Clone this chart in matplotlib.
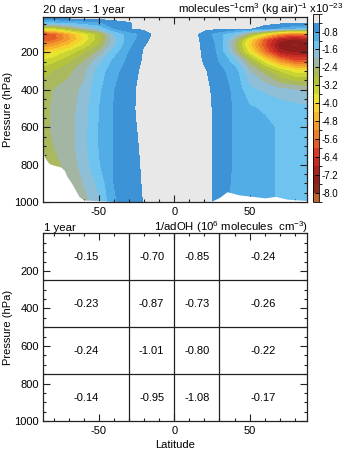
import numpy as np
import matplotlib
matplotlib.use('Agg')
import matplotlib.pyplot as plt
from matplotlib.colors import ListedColormap, BoundaryNorm
from matplotlib.ticker import MultipleLocator

plt.rcParams['font.family'] = ['Liberation Sans', 'DejaVu Sans']
plt.rcParams['mathtext.fontset'] = 'custom'
plt.rcParams['mathtext.rm'] = 'Liberation Sans'
plt.rcParams['mathtext.it'] = 'Liberation Sans:italic'
plt.rcParams['mathtext.bf'] = 'Liberation Sans:bold'

# ---------------- data: top panel (sensitivity, x1e-23) ----------------
lats = [-87, -80, -70, -60, -50, -40, -30, -25, -20, -15, -10, 0,
        10, 15, 20, 25, 30, 40, 50, 60, 70, 80, 88]
pres = [10, 40, 70, 100, 130, 160, 200, 250, 300, 400, 500, 600, 700, 800, 900, 1000]
# one row per latitude, values along pres
sens_by_lat = [
    [-0.2, -1.3, -3.6, -6.0, -6.0, -5.2, -4.2, -3.5, -3.0, -2.6, -2.5, -2.5, -2.55, -2.6, -2.6, -2.6],
    [-0.2, -1.3, -3.3, -5.8, -5.8, -5.0, -4.0, -3.3, -2.8, -2.4, -2.35, -2.35, -2.4, -2.5, -2.5, -2.5],
    [-0.2, -1.2, -2.7, -4.8, -5.0, -4.4, -3.5, -2.9, -2.5, -2.25, -2.2, -2.2, -2.2, -2.3, -2.4, -2.4],
    [-0.2, -1.0, -2.1, -3.8, -4.0, -3.6, -2.9, -2.4, -2.15, -1.9, -1.8, -1.75, -1.75, -1.8, -2.0, -2.2],
    [-0.2, -0.85, -1.6, -3.0, -3.0, -2.8, -2.3, -1.7, -1.45, -1.3, -1.22, -1.2, -1.2, -1.25, -1.5, -1.7],
    [-0.2, -0.6, -0.8, -1.6, -1.8, -1.7, -1.4, -1.1, -0.95, -0.82, -0.79, -0.79, -0.78, -0.78, -0.8, -0.85],
    [-0.2, -0.45, -0.42, -1.0, -1.0, -0.92, -0.8, -0.7, -0.61, -0.54, -0.52, -0.54, -0.55, -0.56, -0.58, -0.62],
    [-0.2, -0.35, -0.37, -0.85, -0.8, -0.69, -0.58, -0.5, -0.435, -0.4, -0.39, -0.41, -0.43, -0.45, -0.48, -0.5],
    [-0.2, -0.3, -0.33, -0.65, -0.55, -0.43, -0.38, -0.36, -0.35, -0.34, -0.33, -0.34, -0.35, -0.36, -0.37, -0.39],
    [-0.2, -0.25, -0.3, -0.41, -0.37, -0.35, -0.32, -0.3, -0.3, -0.3, -0.3, -0.3, -0.3, -0.3, -0.3, -0.3],
    [-0.2, -0.22, -0.25, -0.32, -0.3, -0.28, -0.27, -0.26, -0.26, -0.26, -0.26, -0.26, -0.26, -0.26, -0.26, -0.26],
    [-0.2, -0.2, -0.2, -0.2, -0.2, -0.2, -0.2, -0.2, -0.2, -0.2, -0.2, -0.2, -0.2, -0.2, -0.2, -0.2],
    [-0.2, -0.2, -0.22, -0.3, -0.28, -0.27, -0.26, -0.26, -0.25, -0.25, -0.25, -0.25, -0.25, -0.25, -0.25, -0.25],
    [-0.2, -0.2, -0.25, -0.39, -0.36, -0.34, -0.33, -0.31, -0.3, -0.28, -0.28, -0.28, -0.28, -0.28, -0.28, -0.28],
    [-0.2, -0.22, -0.28, -0.62, -0.56, -0.51, -0.49, -0.46, -0.37, -0.33, -0.32, -0.32, -0.32, -0.32, -0.32, -0.32],
    [-0.2, -0.24, -0.3, -0.85, -0.78, -0.73, -0.71, -0.66, -0.53, -0.43, -0.41, -0.41, -0.41, -0.41, -0.41, -0.41],
    [-0.2, -0.26, -0.33, -1.1, -1.0, -0.95, -0.9, -0.84, -0.7, -0.58, -0.55, -0.55, -0.55, -0.55, -0.56, -0.6],
    [-0.2, -0.3, -0.37, -1.6, -2.2, -2.4, -2.2, -1.4, -1.0, -0.9, -0.86, -0.86, -0.86, -0.86, -0.9, -0.95],
    [-0.2, -0.32, -0.39, -2.6, -4.0, -4.3, -3.8, -2.6, -2.0, -1.5, -1.15, -1.05, -1.05, -1.05, -1.05, -1.05],
    [-0.2, -0.34, -0.5, -3.8, -5.8, -6.0, -5.5, -3.8, -2.6, -1.7, -1.25, -1.12, -1.12, -1.12, -1.12, -1.12],
    [-0.2, -0.35, -0.9, -5.0, -7.0, -7.5, -7.0, -5.0, -3.3, -1.9, -1.35, -1.25, -1.25, -1.25, -1.25, -1.25],
    [-0.2, -0.35, -1.2, -5.5, -7.3, -7.7, -7.3, -5.8, -3.8, -2.0, -1.45, -1.35, -1.35, -1.35, -1.35, -1.35],
    [-0.2, -0.35, -1.4, -5.2, -7.0, -7.5, -7.2, -5.8, -3.8, -2.1, -1.5, -1.45, -1.4, -1.4, -1.4, -1.4],
]
# surface pressure (white, below ground)
surf_lat = [-87, -86, -83, -80, -75.5, -73, -71, -68, -65.5, -63, -60, -51, -38, 20, 25, 30, 35, 43, 52, 60, 67, 75, 88]
surf_p = [722, 761, 794, 803, 812, 829, 865, 900, 936, 972, 989, 993, 998, 1000, 995, 975, 945, 962, 970, 978, 970, 985, 992]

levels = [-8.4, -8.0, -7.6, -7.2, -6.8, -6.4, -6.0, -5.6, -5.2, -4.8, -4.4, -4.0,
          -3.6, -3.2, -2.8, -2.4, -2.0, -1.6, -1.2, -0.8, -0.4, 0.0]
cb_ticks = [-8.0, -7.2, -6.4, -5.6, -4.8, -4.0, -3.2, -2.4, -1.6, -0.8]
band_colors = [  # from most negative to near zero
    '#c0652a', '#8a2a1c', '#8f1d1b', '#a92220', '#c62a25', '#d83a27', '#e45a29',
    '#ec7d2a', '#f29a2c', '#f6b52c', '#f7d12e', '#e9e332', '#cad534', '#b5c23c',
    '#aab85e', '#a3b6a3', '#8ebfd6', '#6fc3ef', '#52ade6', '#3d93d5', '#e8e8e8',
]

# ---------------- data: bottom panel ----------------
box_lat_edges = [-30, 0, 30]
box_p_edges = [250, 500, 750]
box_values = [
    [-0.15, -0.70, -0.85, -0.24],
    [-0.23, -0.87, -0.73, -0.26],
    [-0.24, -1.01, -0.80, -0.22],
    [-0.14, -0.95, -1.08, -0.17],
]

xlims = (-87, 88)
fs = 8
fs_title = 8.2

fig = plt.figure(figsize=(3.44, 4.51), dpi=100)
ax1 = fig.add_axes([0.125, 0.5521, 0.7674, 0.4106])
ax2 = fig.add_axes([0.125, 0.0665, 0.7674, 0.4158])
cax = fig.add_axes([0.9099, 0.5528, 0.0175, 0.4169])

cmap = ListedColormap(band_colors)
norm = BoundaryNorm(levels, cmap.N)
Z = np.array(sens_by_lat).T
cf = ax1.contourf(lats, pres, Z, levels=levels, cmap=cmap, norm=norm)
ax1.fill_between(surf_lat, surf_p, 1000, color='white', lw=0, zorder=2)

def style(ax, ylim):
    ax.set_xlim(*xlims)
    ax.set_ylim(*ylim)
    ax.set_xticks([-50, 0, 50])
    ax.set_xticklabels(['-50', '0', '50'])
    ax.set_yticks([200, 400, 600, 800, 1000])
    ax.xaxis.set_minor_locator(MultipleLocator(10))
    ax.yaxis.set_minor_locator(MultipleLocator(50))
    ax.tick_params(which='both', direction='in', top=True, right=True,
                   labelsize=fs, width=0.8, color='#222222')
    ax.tick_params(axis='y', pad=3)
    ax.tick_params(axis='x', pad=3.5)
    ax.tick_params(which='major', length=5)
    ax.tick_params(which='minor', length=2.5)
    for s in ax.spines.values():
        s.set_linewidth(0.9)
        s.set_color('#222222')
        s.set_zorder(5)
    ax.set_ylabel('Pressure (hPa)', fontsize=fs)
    ax.yaxis.set_label_coords(-0.112, 0.5)

style(ax1, (1000, 10))
style(ax2, (1000, 0))

fig.text(0.125, 0.9705, '20 days - 1 year', fontsize=fs_title,
         ha='left', va='baseline')
fig.text(0.998, 0.9705, r'molecules$^{-1}$cm$^{3}$ (kg air)$^{-1}$ x10$^{-23}$',
         fontsize=fs_title, ha='right', va='baseline')

cb = fig.colorbar(cf, cax=cax, ticks=cb_ticks)
cb.ax.set_yticklabels(['%.1f' % t for t in cb_ticks])
cb.ax.tick_params(labelsize=7, direction='in', length=3, width=0.7, pad=2)
cb.outline.set_linewidth(0.6)

# bottom panel
for le in box_lat_edges:
    ax2.axvline(le, color='#222222', lw=0.9)
for pe in box_p_edges:
    ax2.axhline(pe, color='#222222', lw=0.9)
lat_b = [xlims[0]] + box_lat_edges + [xlims[1]]
p_b = [0] + box_p_edges + [1000]
for i, row in enumerate(box_values):
    for j, v in enumerate(row):
        ax2.text((lat_b[j] + lat_b[j + 1]) / 2, (p_b[i] + p_b[i + 1]) / 2,
                 '%.2f' % v, ha='center', va='center', fontsize=fs)
fig.text(0.127, 0.4885, '1 year', fontsize=fs_title, ha='left', va='baseline')
fig.text(0.897, 0.4885, r'1/adOH (10$^{6}$ molecules  cm$^{-3}$)',
         fontsize=fs_title, ha='right', va='baseline')
ax2.set_xlabel('Latitude', fontsize=fs, labelpad=3)

fig.savefig('out.png', dpi=100)
